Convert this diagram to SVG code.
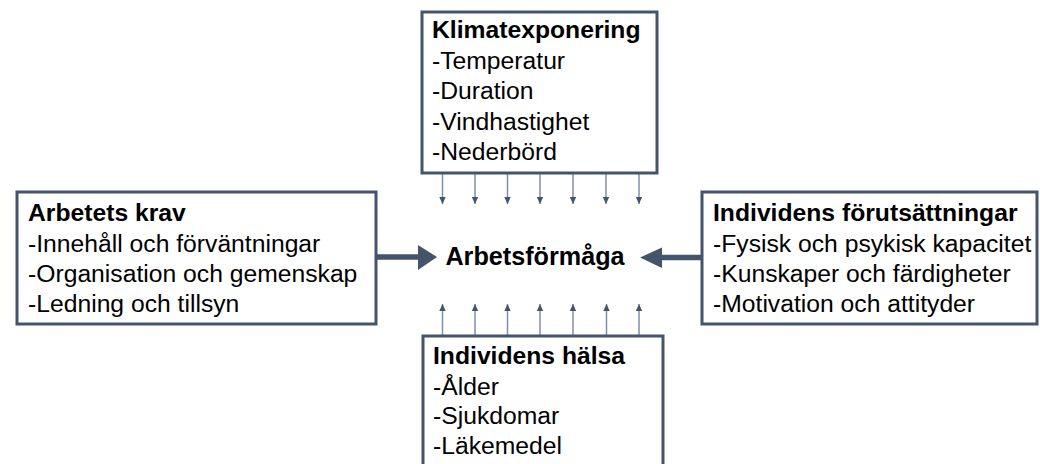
<svg xmlns="http://www.w3.org/2000/svg" width="1040" height="464" viewBox="0 0 1040 464">
  <style>
    .box { fill: #ffffff; stroke: #44546A; stroke-width: 3; }
    .t { font-family: "Liberation Sans", Arial, sans-serif; font-size: 24.7px; fill: #000000; }
    .b { font-weight: bold; }
    .c { font-size: 25.2px; }
    .thin { stroke: #7F8FA8; stroke-width: 1.5; fill: none; }
    .thick { stroke: #44546A; stroke-width: 5.5; fill: none; }
    .head { fill: #44546A; }
  </style>
  <defs>
    <marker id="sa" markerUnits="userSpaceOnUse" markerWidth="8" markerHeight="8" viewBox="0 0 8 8" refX="7" refY="4" orient="auto">
      <path d="M0,0.8 L7,4 L0,7.2 Z" fill="#44546A"/>
    </marker>
  </defs>
  <rect width="1040" height="464" fill="#ffffff"/>

  <g id="connectors">
    <g id="top-arrows">
      <line class="thin" x1="442.5" y1="174" x2="442.5" y2="204" marker-end="url(#sa)"/>
      <line class="thin" x1="475" y1="174" x2="475" y2="204" marker-end="url(#sa)"/>
      <line class="thin" x1="507.5" y1="174" x2="507.5" y2="204" marker-end="url(#sa)"/>
      <line class="thin" x1="540" y1="174" x2="540" y2="204" marker-end="url(#sa)"/>
      <line class="thin" x1="573" y1="174" x2="573" y2="204" marker-end="url(#sa)"/>
      <line class="thin" x1="606" y1="174" x2="606" y2="204" marker-end="url(#sa)"/>
      <line class="thin" x1="639" y1="174" x2="639" y2="204" marker-end="url(#sa)"/>
    </g>
    <g id="bottom-arrows">
      <line class="thin" x1="442.5" y1="335" x2="442.5" y2="304" marker-end="url(#sa)"/>
      <line class="thin" x1="475" y1="335" x2="475" y2="304" marker-end="url(#sa)"/>
      <line class="thin" x1="507.5" y1="335" x2="507.5" y2="304" marker-end="url(#sa)"/>
      <line class="thin" x1="540" y1="335" x2="540" y2="304" marker-end="url(#sa)"/>
      <line class="thin" x1="573" y1="335" x2="573" y2="304" marker-end="url(#sa)"/>
      <line class="thin" x1="606.5" y1="335" x2="606.5" y2="304" marker-end="url(#sa)"/>
      <line class="thin" x1="639" y1="335" x2="639" y2="304" marker-end="url(#sa)"/>
    </g>
    <g id="left-arrow">
      <line class="thick" x1="377" y1="257" x2="420" y2="257"/>
      <path class="head" d="M418,245 L437,257 L418,270 Z"/>
    </g>
    <g id="right-arrow">
      <line class="thick" x1="701" y1="257.5" x2="660" y2="257.5"/>
      <path class="head" d="M662,247.5 L640,257.5 L662,268 Z"/>
    </g>
  </g>

  <g id="node-klimat">
    <rect class="box" x="422" y="12" width="235" height="161"/>
    <text class="t b" x="432" y="38">Klimatexponering</text>
    <text class="t" x="432" y="68.5">-Temperatur</text>
    <text class="t" x="432" y="99">-Duration</text>
    <text class="t" x="432" y="129.5">-Vindhastighet</text>
    <text class="t" x="432" y="160">-Nederbörd</text>
  </g>

  <g id="node-krav">
    <rect class="box" x="17" y="192" width="359" height="132"/>
    <text class="t b" x="28" y="221">Arbetets krav</text>
    <text class="t" x="28" y="251.5">-Innehåll och förväntningar</text>
    <text class="t" x="28" y="282">-Organisation och gemenskap</text>
    <text class="t" x="28" y="312">-Ledning och tillsyn</text>
  </g>

  <g id="node-center">
    <text class="t b c" x="535" y="264.5" text-anchor="middle">Arbetsförmåga</text>
  </g>

  <g id="node-forutsattningar">
    <rect class="box" x="702" y="192" width="335" height="132"/>
    <text class="t b" x="713" y="221">Individens förutsättningar</text>
    <text class="t" x="713" y="251.5">-Fysisk och psykisk kapacitet</text>
    <text class="t" x="713" y="282">-Kunskaper och färdigheter</text>
    <text class="t" x="713" y="312">-Motivation och attityder</text>
  </g>

  <g id="node-halsa">
    <rect class="box" x="423" y="336" width="240" height="150"/>
    <text class="t b" x="433" y="364">Individens hälsa</text>
    <text class="t" x="433" y="394.5">-Ålder</text>
    <text class="t" x="433" y="424">-Sjukdomar</text>
    <text class="t" x="433" y="453.5">-Läkemedel</text>
  </g>
</svg>
